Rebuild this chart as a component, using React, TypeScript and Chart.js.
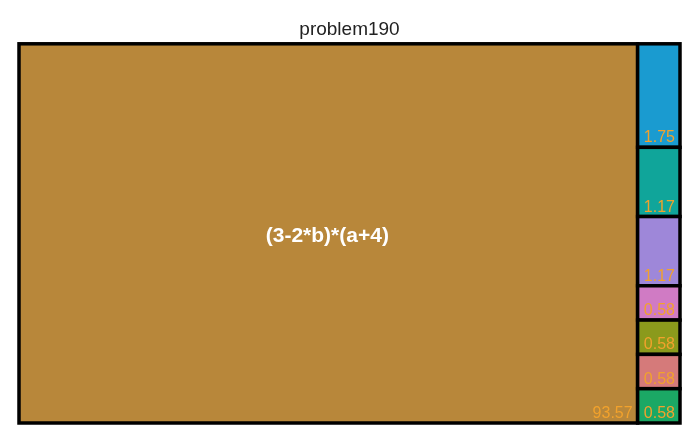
import React, { useEffect, useRef } from "react";
import { Chart, DatasetController, Element, LinearScale, Title } from "chart.js";

const chartTitle = "problem190";
const cellLabels = ["(3-2*b)*(a+4)", "", "", "", "", "", "", ""];
const cellValues = [93.57, 1.75, 1.17, 1.17, 0.58, 0.58, 0.58, 0.58];
const cellColors = [
  "#B8873A",
  "#1A9BD0",
  "#10A59A",
  "#9E87D9",
  "#D07BC4",
  "#8B9A1C",
  "#D57A7A",
  "#1BA865",
];
const valueColor = "#F2A22C";
const FONT = '"Liberation Sans", Arial, sans-serif';

type Rect = { x: number; y: number; w: number; h: number };

function worst(row: number[], s: number): number {
  const sum = row.reduce((a, b) => a + b, 0);
  const mx = Math.max(...row);
  const mn = Math.min(...row);
  return Math.max((s * s * mx) / (sum * sum), (sum * sum) / (s * s * mn));
}

function squarify(values: number[], x: number, y: number, w: number, h: number): Rect[] {
  const total = values.reduce((a, b) => a + b, 0);
  const k = (w * h) / total;
  const areas = values.map((v) => v * k);
  const rects: Rect[] = [];
  let i = 0;
  while (i < areas.length) {
    const short = Math.min(w, h);
    let row = [areas[i]];
    let j = i + 1;
    while (j < areas.length) {
      const cand = [...row, areas[j]];
      if (worst(cand, short) <= worst(row, short)) {
        row = cand;
        j++;
      } else break;
    }
    const rs = row.reduce((a, b) => a + b, 0);
    if (w >= h) {
      const rw = rs / h;
      let cy = y;
      for (const a of row) {
        const rh = a / rw;
        rects.push({ x, y: cy, w: rw, h: rh });
        cy += rh;
      }
      x += rw;
      w -= rw;
    } else {
      const rh = rs / w;
      let cx = x;
      for (const a of row) {
        const rw = a / rh;
        rects.push({ x: cx, y, w: rw, h: rh });
        cx += rw;
      }
      y += rh;
      h -= rh;
    }
    i = j;
  }
  return rects;
}

class TreemapRect extends Element {
  static id = "treemapRect";
  static defaults = {};
  draw(ctx: CanvasRenderingContext2D) {
    const me: any = this;
    const { x, y, w, h, color, label, valueText } = me;
    ctx.save();
    ctx.fillStyle = color;
    ctx.fillRect(x, y, w, h);
    ctx.lineWidth = 3.5;
    ctx.strokeStyle = "#000";
    ctx.strokeRect(x, y, w, h);
    ctx.fillStyle = valueColor;
    ctx.font = `16px ${FONT}`;
    ctx.textAlign = "right";
    ctx.textBaseline = "alphabetic";
    ctx.fillText(valueText, x + w - 5, y + h - 5);
    if (label) {
      ctx.font = `bold 21px ${FONT}`;
      if (ctx.measureText(label).width < w - 10) {
        ctx.fillStyle = "#FFFFFF";
        ctx.textAlign = "center";
        ctx.textBaseline = "middle";
        ctx.fillText(label, x + w / 2 - 1, y + h / 2 + 3);
      }
    }
    ctx.restore();
  }
  inRange() {
    return false;
  }
  getCenterPoint() {
    const me: any = this;
    return { x: me.x + me.w / 2, y: me.y + me.h / 2 };
  }
}

class TreemapController extends DatasetController {
  static id = "treemap";
  static defaults = {
    datasetElementType: false,
    dataElementType: "treemapRect",
  };
  update(mode: any) {
    const meta: any = this._cachedMeta;
    this.updateElements(meta.data, 0, meta.data.length, mode);
  }
  updateElements(elements: any[], start: number, count: number, _mode: any) {
    const meta: any = this._cachedMeta;
    const xs = meta.xScale;
    const ys = meta.yScale;
    const ds: any = this.getDataset();
    const vals: number[] = ds.data;
    const W = 1000;
    const H = (1000 * Math.abs(ys.bottom - ys.top)) / Math.abs(xs.right - xs.left);
    const rects = squarify(vals, 0, 0, W, H);
    for (let i = start; i < start + count; i++) {
      const r = rects[i];
      const x0 = xs.getPixelForValue(r.x / W);
      const x1 = xs.getPixelForValue((r.x + r.w) / W);
      const y0 = ys.getPixelForValue(r.y / H);
      const y1 = ys.getPixelForValue((r.y + r.h) / H);
      Object.assign(elements[i], {
        x: Math.min(x0, x1),
        y: Math.min(y0, y1),
        w: Math.abs(x1 - x0),
        h: Math.abs(y1 - y0),
        color: ds.backgroundColor[i],
        label: ds.labels[i],
        valueText: vals[i].toFixed(2),
      });
    }
  }
}

Chart.register(LinearScale, Title, TreemapRect as any, TreemapController as any);

export default function App() {
  const ref = useRef<HTMLCanvasElement | null>(null);
  useEffect(() => {
    if (!ref.current) return;
    const chart = new Chart(ref.current, {
      type: "treemap" as any,
      data: {
        labels: cellLabels,
        datasets: [
          {
            data: cellValues,
            backgroundColor: cellColors,
            labels: cellLabels,
          } as any,
        ],
      },
      options: {
        animation: false,
        responsive: true,
        maintainAspectRatio: false,
        events: [],
        layout: { padding: { left: 19, right: 20, bottom: 10, top: 0 } },
        scales: {
          x: { type: "linear", display: false, min: 0, max: 1 },
          y: { type: "linear", display: false, min: 0, max: 1, reverse: true },
        },
        plugins: {
          legend: { display: false },
          tooltip: { enabled: false },
          title: {
            display: true,
            text: chartTitle,
            color: "#222222",
            font: { family: FONT, size: 19, weight: "normal", lineHeight: 1.2 },
            padding: { top: 18, bottom: 3 },
          },
        },
      } as any,
    });
    return () => chart.destroy();
  }, []);
  return (
    <div style={{ position: "absolute", left: 0, top: 0, width: 700, height: 433 }}>
      <canvas ref={ref} style={{ display: "block" }} />
    </div>
  );
}
